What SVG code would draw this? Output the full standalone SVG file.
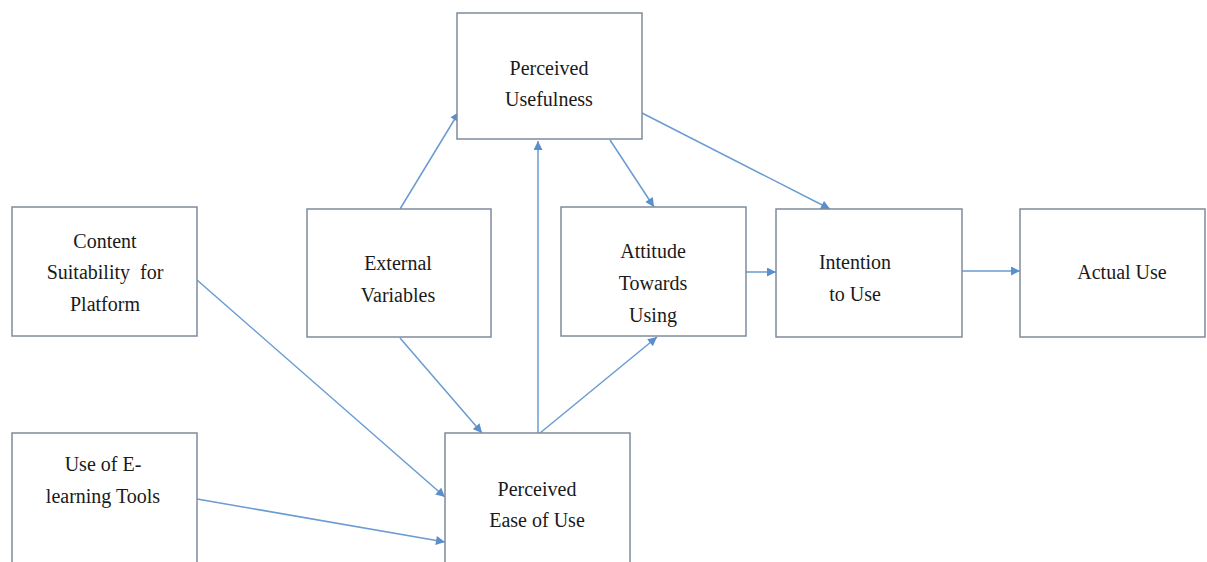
<svg xmlns="http://www.w3.org/2000/svg" width="1207" height="562" viewBox="0 0 1207 562">
<style>
.box{fill:#fff;stroke:#7f8c9c;stroke-width:1.5}
.t{font-family:"Liberation Serif","Times New Roman",serif;font-size:20px;fill:#1a1a1a;text-anchor:middle}
.c{stroke:#6a9bd1;stroke-width:1.5;fill:none;marker-end:url(#ah)}
</style>
<defs>
<marker id="ah" viewBox="0 0 10 10" refX="10" refY="5" markerWidth="10" markerHeight="9" markerUnits="userSpaceOnUse" orient="auto">
<path d="M0,0 L10,5 L0,10 z" fill="#5b8fcc"/>
</marker>
</defs>
<rect width="1207" height="562" fill="#fff"/>
<g id="connectors">
<line class="c" x1="400" y1="209" x2="459" y2="112"/>
<line class="c" x1="538" y1="433" x2="538" y2="141"/>
<line class="c" x1="610" y1="140" x2="654" y2="207"/>
<line class="c" x1="642" y1="113" x2="830" y2="209"/>
<line class="c" x1="746" y1="272" x2="776" y2="272"/>
<line class="c" x1="962" y1="271" x2="1020" y2="271"/>
<line class="c" x1="400" y1="338" x2="482" y2="433"/>
<line class="c" x1="540" y1="433" x2="657" y2="337"/>
<line class="c" x1="197" y1="280" x2="445" y2="497"/>
<line class="c" x1="197" y1="499" x2="445" y2="542"/>
</g>
<g id="pu"><rect class="box" x="457" y="13" width="185" height="126"/>
<text class="t" x="549" y="75">Perceived</text><text class="t" x="549" y="106">Usefulness</text></g>
<g id="content"><rect class="box" x="12" y="207" width="185" height="129"/>
<text class="t" x="105" y="248">Content</text><text class="t" x="105" y="279" xml:space="preserve">Suitability  for</text><text class="t" x="105" y="311">Platform</text></g>
<g id="external"><rect class="box" x="307" y="209" width="184" height="128"/>
<text class="t" x="398" y="270">External</text><text class="t" x="398" y="302">Variables</text></g>
<g id="attitude"><rect class="box" x="561" y="207" width="185" height="129"/>
<text class="t" x="653" y="258">Attitude</text><text class="t" x="653" y="290">Towards</text><text class="t" x="653" y="322">Using</text></g>
<g id="intention"><rect class="box" x="776" y="209" width="186" height="128"/>
<text class="t" x="855" y="269">Intention</text><text class="t" x="855" y="301">to Use</text></g>
<g id="actual"><rect class="box" x="1020" y="209" width="185" height="128"/>
<text class="t" x="1122" y="279">Actual Use</text></g>
<g id="peou"><rect class="box" x="445" y="433" width="185" height="135"/>
<text class="t" x="537" y="496">Perceived</text><text class="t" x="537" y="527">Ease of Use</text></g>
<g id="elearning"><rect class="box" x="12" y="433" width="185" height="135"/>
<text class="t" x="103" y="471">Use of E-</text><text class="t" x="103" y="503">learning Tools</text></g>
</svg>
